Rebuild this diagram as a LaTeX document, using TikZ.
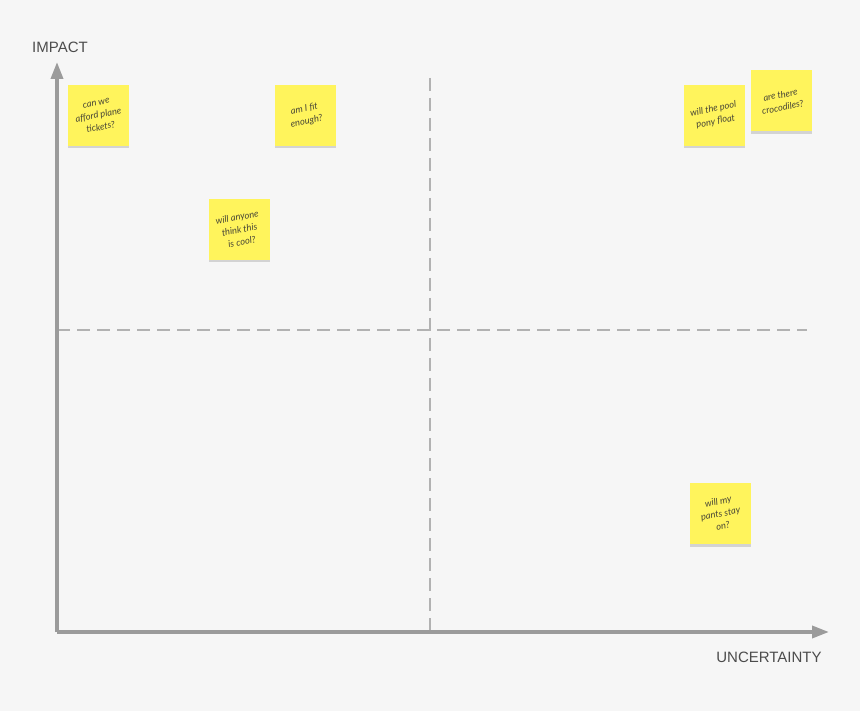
\documentclass[tikz,border=0pt]{standalone}
\usepackage{fontspec}
\setmainfont{Liberation Sans}
\newfontfamily\notefont{Lato}
\usepackage{tikz}
\usetikzlibrary{arrows.meta,positioning,shadows}
\definecolor{boardbg}{HTML}{F6F6F6}
\definecolor{axisgray}{HTML}{9B9B9B}
\definecolor{dashgray}{HTML}{B2B2B2}
\definecolor{labelgray}{HTML}{4C4C4C}
\definecolor{noteyellow}{HTML}{FFF45C}
\definecolor{noteink}{HTML}{4A4836}

\begin{document}
\begin{tikzpicture}[
  x=1pt, y=-1pt,
  axis/.style={-{Triangle[length=17pt,width=12pt]}, line width=3.6pt, draw=axisgray},
  split/.style={dash pattern=on 13pt off 7pt, line width=1.2pt, draw=dashgray},
  axislabel/.style={font=\fontsize{15}{17}\selectfont, text=labelgray},
  note/.style={fill=noteyellow, minimum size=61pt, inner sep=0pt, drop shadow={shadow xshift=0pt, shadow yshift=-2.5pt, fill=black!30}},
  notetext/.style={align=center, rotate=11, font=\notefont\itshape\fontsize{9.3}{12.5}\selectfont, text=noteink}
]
\fill[boardbg] (0,0) rectangle (860,711);
\coordinate (origin) at (57,632);
\coordinate (ytip) at (57,62);
\coordinate (xtip) at (829,632);
\coordinate (vtop) at (430,78);
\coordinate (vbot) at (430,632);
\coordinate (hleft) at (57,330);
\coordinate (hright) at (807,330);
\draw[split] (vtop) -- (vbot);
\draw[split] (hleft) -- (hright);
\draw[axis] (origin) -- (ytip);
\draw[axis] (origin) -- (xtip);
\node[axislabel] (impact) at (60,47) {IMPACT};
\node[axislabel] (uncertainty) at (769,657) {UNCERTAINTY};
\node[note] (plane) at (98.5,115.5) {};
\node[notetext] at (plane) {can we\\afford plane\\tickets?};
\node[note] (fit) at (305.5,115.5) {};
\node[notetext] at (fit) {am I fit\\enough?};
\node[note] (cool) at (239.5,229.5) {};
\node[notetext] at (cool) {will anyone\\think this\\is cool?};
\node[note] (pony) at (714.5,115.5) {};
\node[notetext] at (pony) {will the pool\\pony float};
\node[note] (croc) at (781.5,101) {};
\node[notetext] at (croc) {are there\\crocodiles?};
\node[note] (pants) at (720.5,513.5) {};
\node[notetext] at (pants) {will my\\pants stay\\on?};
\end{tikzpicture}
\end{document}
